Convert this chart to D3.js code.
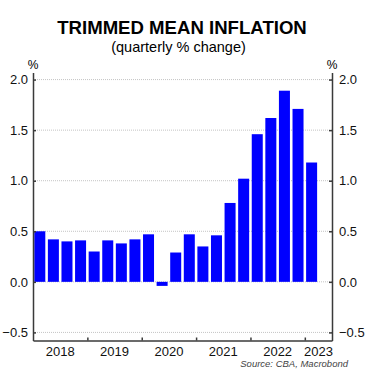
<!DOCTYPE html>
<html>
<head>
<meta charset="utf-8">
<script src="https://cdn.jsdelivr.net/npm/d3@7"></script>
<style>
    body { margin: 0; background: #fff; }
    svg text { font-family: Arial, "Liberation Sans", sans-serif; }
</style>
</head>
<body>
<svg id="chart" width="369" height="374"></svg>
<script>
// Quarterly trimmed mean inflation, 2018 Q1 to 2023 Q1
const quarters = ["2018Q1", "2018Q2", "2018Q3", "2018Q4", "2019Q1", "2019Q2", "2019Q3", "2019Q4",
    "2020Q1", "2020Q2", "2020Q3", "2020Q4", "2021Q1", "2021Q2", "2021Q3", "2021Q4",
    "2022Q1", "2022Q2", "2022Q3", "2022Q4", "2023Q1", "2023Q2"];
const values = [0.50, 0.42, 0.40, 0.41, 0.30, 0.41, 0.38, 0.42,
    0.47, -0.04, 0.29, 0.47, 0.35, 0.46, 0.78, 1.02,
    1.46, 1.62, 1.89, 1.71, 1.18];
const y_ticks = [-0.5, 0.0, 0.5, 1.0, 1.5, 2.0];
const year_boundaries = [2019, 2020, 2021, 2022, 2023];
const year_labels = [
    {year: "2018", at: 2018.5}, {year: "2019", at: 2019.5}, {year: "2020", at: 2020.5},
    {year: "2021", at: 2021.5}, {year: "2022", at: 2022.5}, {year: "2023", at: 2023.25}];

const bar_color = "#0000ff";
const axis_color = "#3a3a3a";

const plot_left = 33, plot_right = 332, plot_top = 72.5, plot_bottom = 340.5;

let svg = d3.select("#chart");

let x = d3.scaleBand()
    .domain(quarters)
    .range([plot_left, plot_right])
    .paddingInner(0.19)
    .paddingOuter(0.095);

let x_time = d3.scaleLinear()
    .domain([2018, 2023.5])
    .range([plot_left, plot_right]);

let y = d3.scaleLinear()
    .domain([-0.58, 2.07])
    .range([plot_bottom, plot_top]);

// Title
svg.append("text")
    .attr("x", 182).attr("y", 34)
    .attr("text-anchor", "middle")
    .attr("font-size", "18.6px")
    .attr("font-weight", "bold")
    .text("TRIMMED MEAN INFLATION");
svg.append("text")
    .attr("x", 178.5).attr("y", 52)
    .attr("text-anchor", "middle")
    .attr("font-size", "14.5px")
    .text("(quarterly % change)");

// Gridlines
svg.append("g")
    .selectAll("line")
    .data(y_ticks)
    .enter()
    .append("line")
    .attr("x1", plot_left).attr("x2", plot_right)
    .attr("y1", d => y(d)).attr("y2", d => y(d))
    .attr("stroke", "#c4c4c4")
    .attr("stroke-width", 1)
    .attr("stroke-dasharray", "1,1");

// Bars
svg.append("g")
    .selectAll("rect")
    .data(values)
    .enter()
    .append("rect")
    .attr("x", (d, i) => x(quarters[i]))
    .attr("width", x.bandwidth())
    .attr("y", d => y(Math.max(0, d)))
    .attr("height", d => Math.abs(y(d) - y(0)))
    .attr("fill", bar_color);

// Left and right value axes
function styleAxis(g) {
    g.select(".domain").attr("stroke", axis_color).attr("stroke-width", 1.5);
    g.selectAll(".tick line").attr("stroke", axis_color).attr("stroke-width", 1.5);
    g.selectAll(".tick text").attr("fill", "#111").attr("font-size", "13px")
        .attr("font-family", "Arial, 'Liberation Sans', sans-serif");
}

svg.append("g")
    .attr("transform", `translate(${plot_left},0)`)
    .call(d3.axisLeft(y).tickValues(y_ticks).tickFormat(d3.format(".1f"))
        .tickSizeInner(-3).tickSizeOuter(0).tickPadding(5))
    .call(styleAxis);

svg.append("g")
    .attr("transform", `translate(${plot_right},0)`)
    .call(d3.axisRight(y).tickValues(y_ticks).tickFormat(d3.format(".1f"))
        .tickSizeInner(-3).tickSizeOuter(0).tickPadding(7))
    .call(styleAxis);

// Bottom axis: year boundaries as inward ticks, labels centred in each year
svg.append("g")
    .attr("transform", `translate(0,${plot_bottom})`)
    .call(d3.axisBottom(x_time).tickValues(year_boundaries).tickFormat("")
        .tickSizeInner(-3).tickSizeOuter(0))
    .call(styleAxis);

svg.append("g")
    .selectAll("text")
    .data(year_labels)
    .enter()
    .append("text")
    .attr("x", d => x_time(d.at))
    .attr("y", plot_bottom + 15)
    .attr("text-anchor", "middle")
    .attr("font-size", "13px")
    .attr("fill", "#111")
    .text(d => d.year);

// Unit labels
svg.append("text")
    .attr("x", plot_left).attr("y", 69)
    .attr("text-anchor", "middle")
    .attr("font-size", "12px")
    .text("%");
svg.append("text")
    .attr("x", plot_right).attr("y", 69)
    .attr("text-anchor", "middle")
    .attr("font-size", "12px")
    .text("%");

// Source
svg.append("text")
    .attr("x", 348).attr("y", 367)
    .attr("text-anchor", "end")
    .attr("font-size", "9.5px")
    .attr("font-style", "italic")
    .attr("fill", "#444")
    .text("Source: CBA, Macrobond");
</script>
</body>
</html>
